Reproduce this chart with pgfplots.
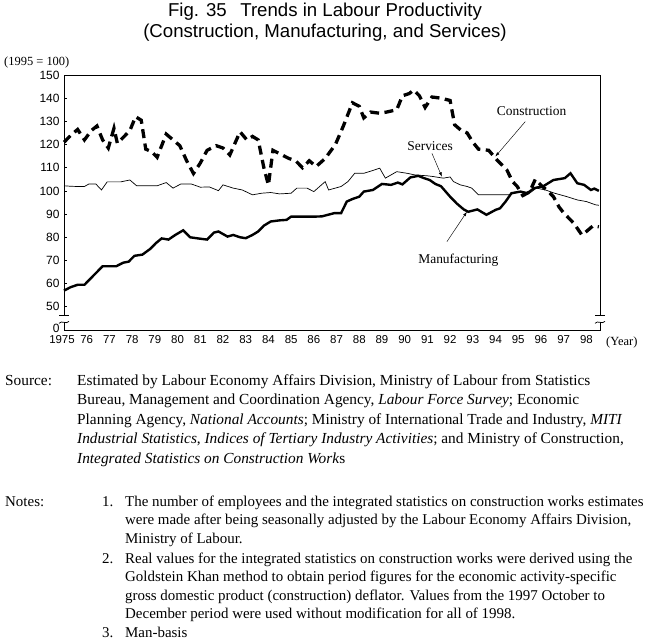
\documentclass[border=0pt]{standalone}
\usepackage{fontspec}
\setmainfont{Liberation Serif}
\newfontfamily\arial{Liberation Sans}
\usepackage{pgfplots}
\pgfplotsset{compat=1.18}
\usetikzlibrary{arrows.meta}
\newcommand{\nf}{\fontsize{15}{17}\selectfont}
\newcommand{\srcf}{\fontsize{15.4}{17}\selectfont}
\begin{document}
\begin{tikzpicture}
\begin{scope}[x=1bp,y=1bp]
\path[use as bounding box] (0,0) rectangle (649,641);
\node[font=\arial\fontsize{18.7}{22}\selectfont] at (325,641-12) {Fig. 35\hspace{0.45em} Trends in Labour Productivity};
\node[font=\arial\fontsize{18.7}{22}\selectfont] at (325,641-33) {(Construction, Manufacturing, and Services)};
\node[anchor=west,font=\fontsize{12.5}{14}\selectfont,inner sep=0pt] at (4,641-63) {(1995 = 100)};
\node[anchor=west,font=\fontsize{12.5}{14}\selectfont,inner sep=0pt] at (606,641-343) {(Year)};
\end{scope}
\begin{axis}[at={(64bp,311bp)}, anchor=south west, scale only axis,
  width=536bp, height=255bp,
  xmin=1975, xmax=1998.6, ymin=40, ymax=150,
  axis line style={line width=0.75bp},
  ytick={40,50,60,70,80,90,100,110,120,130,140,150},
  yticklabels={\raisebox{4bp}{0},50,60,70,80,90,100,110,120,130,140,150},
  ytick pos=left, tick align=inside, major tick length=3.5bp,
  ytick style={black,line width=0.75bp},
  xtick={1975,1976,...,1998},
  xticklabels={\hspace*{-4bp}1975,76,77,78,79,80,81,82,83,84,85,86,87,88,89,90,91,92,93,94,95,96,97,98},
  xtick style={draw=none},
  yticklabel style={font=\arial\fontsize{12}{14}\selectfont, xshift=-1bp},
  xticklabel style={font=\arial\fontsize{11.5}{13}\selectfont, text height=8.5bp, text depth=0pt, yshift=-1.5bp},
  /pgf/number format/assume math mode=true,
  clip=false]
% Construction
\addplot[black, line width=3.3bp, dash pattern=on 9bp off 5.5bp] coordinates {
(1975.0,121) (1975.3,124) (1975.6,126.5) (1975.9,122) (1976.2,126) (1976.45,128)
(1976.7,122) (1976.95,118.5) (1977.2,127) (1977.35,120.5) (1977.6,123) (1977.9,126)
(1978.15,132) (1978.4,130.5) (1978.6,118) (1978.85,117) (1979.1,114.5) (1979.5,124.5)
(1979.8,122) (1980.1,119.5) (1980.4,113) (1980.7,107.5) (1981.0,112) (1981.3,117.5)
(1981.7,119.5) (1982.0,118.5) (1982.3,115.5) (1982.75,125.5) (1983.05,122) (1983.3,123.5)
(1983.55,122) (1983.8,110) (1984.0,102.5) (1984.2,117.5) (1984.5,116) (1984.9,114)
(1985.2,113) (1985.5,110) (1985.8,113) (1986.1,110.5) (1986.5,114) (1986.95,120)
(1987.3,128) (1987.7,138) (1988.0,136.5) (1988.2,131.5) (1988.5,134) (1988.9,133.5)
(1989.2,134) (1989.65,135) (1989.9,141) (1990.2,142) (1990.4,143.5) (1990.65,141)
(1990.9,136) (1991.2,140.5) (1991.6,140) (1992.0,139) (1992.2,128.5) (1992.5,126)
(1992.75,125) (1993.0,121) (1993.25,118) (1993.7,117.5) (1994.05,113.5) (1994.3,111)
(1994.5,109) (1994.75,104) (1994.95,102) (1995.2,98) (1995.5,99.5) (1995.75,105)
(1996.05,102) (1996.3,100) (1996.55,97.5) (1996.8,93) (1997.0,90.5) (1997.25,88)
(1997.45,86) (1997.8,81) (1998.0,82.5) (1998.3,85) (1998.55,84.5)
};
% Manufacturing
\addplot[black, line width=2.4bp] coordinates {
(1975.0,57) (1975.3,58.5) (1975.6,59.5) (1975.9,59.5) (1976.2,62.5) (1976.45,65)
(1976.7,67.5) (1977.0,67.5) (1977.3,67.5) (1977.6,69) (1977.85,69.5) (1978.1,72)
(1978.45,72.5) (1978.8,75) (1979.05,77.5) (1979.3,79.5) (1979.6,79) (1979.9,81)
(1980.25,83) (1980.55,80) (1980.9,79.5) (1981.3,79) (1981.6,82) (1981.8,82.5)
(1982.2,80.3) (1982.45,81) (1982.75,80) (1983.0,79.6) (1983.3,81) (1983.55,82.5)
(1983.8,85) (1984.1,86.8) (1984.5,87.3) (1984.8,87.5) (1985.0,88.9) (1985.5,88.9)
(1986.0,88.9) (1986.35,89) (1986.9,90.4) (1987.2,90.4) (1987.45,95.4) (1987.7,96.5)
(1988.0,97.5) (1988.2,99.7) (1988.6,100.4) (1989.0,103) (1989.4,102.6) (1989.7,103.6)
(1989.9,102.8) (1990.25,105.8) (1990.6,106.5) (1990.85,105.5) (1991.1,104.7) (1991.35,103)
(1991.6,102) (1992.0,97.5) (1992.3,94.5) (1992.6,92) (1992.8,91) (1993.2,92)
(1993.6,89.7) (1994.0,91.8) (1994.2,92.5) (1994.45,95.5) (1994.7,99) (1995.1,99.7)
(1995.4,99) (1995.7,101.2) (1996.1,102) (1996.55,104.7) (1997.05,105.5) (1997.3,107.6)
(1997.6,103.3) (1997.9,102.6) (1998.2,100.4) (1998.35,101) (1998.55,100)
};
% Services
\addplot[black, line width=0.7bp] coordinates {
(1975.0,102.2) (1975.3,102) (1975.6,101.9) (1975.9,101.9) (1976.1,103) (1976.4,103)
(1976.65,100.4) (1976.9,103.9) (1977.2,103.9) (1977.5,103.9) (1977.9,104.7) (1978.2,102.2)
(1978.6,102.2) (1979.1,102.2) (1979.5,103.6) (1979.8,101.2) (1980.15,103) (1980.6,103)
(1981.0,101.6) (1981.4,101.7) (1981.8,100.1) (1982.0,102.6) (1982.45,101.2) (1982.85,100.4)
(1983.3,98.3) (1983.7,99) (1984.1,99.3) (1984.5,98.7) (1985.0,99) (1985.25,101.2)
(1985.7,101.2) (1986.0,99.7) (1986.5,104) (1986.65,100.4) (1987.2,101.9) (1987.5,104)
(1987.8,107.6) (1988.2,107.6) (1988.6,108.8) (1988.9,109.8) (1989.15,105.5) (1989.65,108.3)
(1990.1,107.6) (1990.45,106.9) (1991.0,106.5) (1991.25,106.2) (1991.7,105.5) (1992.0,106)
(1992.15,104) (1992.45,102.6) (1992.75,101.9) (1992.95,101.2) (1993.25,98.3) (1993.7,98.3)
(1994.1,98.3) (1994.6,98.3) (1995.0,99.7) (1995.5,99) (1995.8,101.2) (1996.2,100.4)
(1996.6,99) (1997.15,97.5) (1997.6,96.1) (1998.0,95.4) (1998.4,94) (1998.55,93.8)
};
\node[font=\fontsize{13.5}{15}\selectfont] at (axis cs:1995.59,134.3) {Construction};
\node[font=\fontsize{13.5}{15}\selectfont] at (axis cs:1991.12,119.4) {Services};
\node[font=\fontsize{13.5}{15}\selectfont] at (axis cs:1992.36,70.2) {Manufacturing};
\draw[line width=0.45bp,-{Latex[length=4.5bp,width=3bp]}] (axis cs:1995.31,129.9) -- (axis cs:1993.99,114.8);
\draw[line width=0.45bp,-{Latex[length=4.5bp,width=3bp]}] (axis cs:1991.2,116.2) -- (axis cs:1991.64,106.1);
\draw[line width=0.45bp,-{Latex[length=4.5bp,width=3bp]}] (axis cs:1991.86,78.1) -- (axis cs:1992.74,91.0);
\coordinate (LB) at (axis cs:1975,43.3);
\coordinate (LT) at (axis cs:1975,46.5);
\coordinate (RB) at (axis cs:1998.6,43.3);
\coordinate (RT) at (axis cs:1998.6,46.5);
\end{axis}
\foreach \b/\t in {LB/LT,RB/RT}{
  \fill[white] ([xshift=-3bp]\b) rectangle ([xshift=3bp]\t);
  \draw[line width=0.75bp] ([xshift=-5bp]\t) -- ([xshift=5bp]\t);
  \draw[line width=0.75bp] ([xshift=-5bp,yshift=-1bp]\b) .. controls ([xshift=-2.5bp,yshift=2.5bp]\b) and ([xshift=2.5bp,yshift=-2.5bp]\b) .. ([xshift=5bp,yshift=1bp]\b);
}
\begin{scope}[x=1bp,y=1bp]
\node[anchor=base west,font=\srcf,inner sep=0pt] at (5,641-385.5) {Source:};
\node[anchor=base west,font=\srcf,inner sep=0pt] at (77,641-385.5) {Estimated by Labour Economy Affairs Division, Ministry of Labour from Statistics};
\node[anchor=base west,font=\srcf,inner sep=0pt] at (77,641-405) {Bureau, Management and Coordination Agency, \textit{Labour Force Survey}; Economic};
\node[anchor=base west,font=\srcf,inner sep=0pt] at (77,641-424.5) {Planning Agency, \textit{National Accounts}; Ministry of International Trade and Industry, \textit{MITI}};
\node[anchor=base west,font=\srcf,inner sep=0pt] at (77,641-444) {\textit{Industrial Statistics}, \textit{Indices of Tertiary Industry Activities}; and Ministry of Construction,};
\node[anchor=base west,font=\srcf,inner sep=0pt] at (77,641-463.5) {\textit{Integrated Statistics on Construction Work}s};
\node[anchor=base west,font=\nf,inner sep=0pt] at (5,641-506.5) {Notes:};
\node[anchor=base west,font=\nf,inner sep=0pt] at (102,641-506.5) {1.};
\node[anchor=base west,font=\nf,inner sep=0pt] at (125,641-506.5) {The number of employees and the integrated statistics on construction works estimates};
\node[anchor=base west,font=\nf,inner sep=0pt] at (125,641-525) {were made after being seasonally adjusted by the Labour Economy Affairs Division,};
\node[anchor=base west,font=\nf,inner sep=0pt] at (125,641-543.5) {Ministry of Labour.};
\node[anchor=base west,font=\nf,inner sep=0pt] at (102,641-563.5) {2.};
\node[anchor=base west,font=\nf,inner sep=0pt] at (125,641-563.5) {Real values for the integrated statistics on construction works were derived using the};
\node[anchor=base west,font=\nf,inner sep=0pt] at (125,641-582) {Goldstein Khan method to obtain period figures for the economic activity-specific};
\node[anchor=base west,font=\nf,inner sep=0pt] at (125,641-600.5) {gross domestic product (construction) deflator. Values from the 1997 October to};
\node[anchor=base west,font=\nf,inner sep=0pt] at (125,641-619) {December period were used without modification for all of 1998.};
\node[anchor=base west,font=\nf,inner sep=0pt] at (102,641-637.5) {3.};
\node[anchor=base west,font=\nf,inner sep=0pt] at (125,641-637.5) {Man-basis};
\end{scope}
\end{tikzpicture}
\end{document}
